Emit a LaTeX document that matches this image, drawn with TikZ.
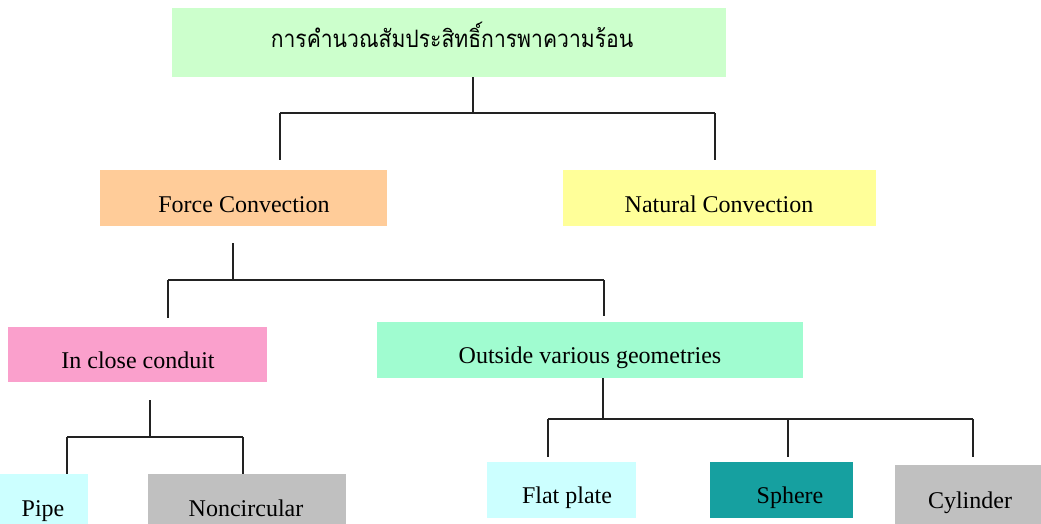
\documentclass[tikz,border=0pt]{standalone}
\usepackage{fontspec}
\setmainfont{Liberation Serif}
\newfontfamily\thaifont[Script=Thai,FakeStretch=0.88]{Loma}
\definecolor{cTop}{HTML}{CCFFCC}
\definecolor{cOrange}{HTML}{FFCC99}
\definecolor{cYellow}{HTML}{FFFF99}
\definecolor{cPink}{HTML}{FAA0CC}
\definecolor{cMint}{HTML}{A0FCD0}
\definecolor{cCyan}{HTML}{CCFFFF}
\definecolor{cGray}{HTML}{C0C0C0}
\definecolor{cTeal}{HTML}{16A0A0}
\definecolor{cLine}{HTML}{222222}
\begin{document}
\begin{tikzpicture}[x=1pt,y=-1pt,
  box/.style={draw=none, inner sep=0pt, outer sep=0pt},
  lbl/.style={anchor=base, inner sep=0pt, font=\fontsize{24}{28}\selectfont},
  conn/.style={line width=2pt, draw=cLine}]
\useasboundingbox (0,0) rectangle (1041,523);
\clip (0,0) rectangle (1041,523);
\fill[white] (0,0) rectangle (1041,523);
% boxes
\node[box, fill=cTop, minimum width=554pt, minimum height=69pt] (top) at (449,42.5) {};
\node[box, fill=cOrange, minimum width=287pt, minimum height=56pt] (fc) at (243.5,198) {};
\node[box, fill=cYellow, minimum width=313pt, minimum height=56pt] (nc) at (719.5,198) {};
\node[box, fill=cPink, minimum width=259pt, minimum height=55pt] (icc) at (137.5,354.5) {};
\node[box, fill=cMint, minimum width=426pt, minimum height=56pt] (ovg) at (590,350) {};
\node[box, fill=cCyan, minimum width=98pt, minimum height=66pt] (pipe) at (39,507) {};
\node[box, fill=cGray, minimum width=198pt, minimum height=66pt] (nonc) at (247,507) {};
\node[box, fill=cCyan, minimum width=149pt, minimum height=56pt] (flat) at (561.5,490) {};
\node[box, fill=cTeal, minimum width=143pt, minimum height=56pt] (sph) at (781.5,490) {};
\node[box, fill=cGray, minimum width=155pt, minimum height=68pt] (cyl) at (972.5,499) {};
% labels
\node[lbl, font=\thaifont\fontsize{24}{28}\selectfont] (topt) at (452,47) {การคำนวณสัมประสิทธิ์การพาความร้อน};
\node[lbl] (fct) at (244,212) {Force Convection};
\node[lbl] (nct) at (719,212) {Natural Convection};
\node[lbl] (icct) at (138,368) {In close conduit};
\node[lbl] (ovgt) at (590,363) {Outside various geometries};
\node[lbl] (pipet) at (43,516) {Pipe};
\node[lbl] (nonct) at (246,516) {Noncircular};
\node[lbl] (flatt) at (567,503) {Flat plate};
\node[lbl] (spht) at (790,503) {Sphere};
\node[lbl] (cylt) at (970,508) {Cylinder};
% junctions
\coordinate (j1) at (473,113);
\coordinate (j1l) at (280,113);
\coordinate (j1r) at (715,113);
\coordinate (j2t) at (233,243);
\coordinate (j2) at (233,280);
\coordinate (j2l) at (168,280);
\coordinate (j2r) at (604,280);
\coordinate (j3t) at (150,400);
\coordinate (j3) at (150,437);
\coordinate (j3l) at (67,437);
\coordinate (j3r) at (243,437);
\coordinate (j4) at (603,419);
\coordinate (j4l) at (548,419);
\coordinate (j4m) at (788,419);
\coordinate (j4r) at (973,419);
% connectors
\draw[conn] (top.south -| j1) -- (j1);
\draw[conn] (j1l) -- (j1r);
\draw[conn] (j1l) -- ([yshift=10pt]fc.north -| j1l);
\draw[conn] (j1r) -- ([yshift=10pt]nc.north -| j1r);
\draw[conn] (j2t) -- (j2);
\draw[conn] (j2l) -- (j2r);
\draw[conn] (j2l) -- ([yshift=9pt]icc.north -| j2l);
\draw[conn] (j2r) -- ([yshift=6pt]ovg.north -| j2r);
\draw[conn] (j3t) -- (j3);
\draw[conn] (j3l) -- (j3r);
\draw[conn] (j3l) -- (pipe.north -| j3l);
\draw[conn] (j3r) -- (nonc.north -| j3r);
\draw[conn] (ovg.south -| j4) -- (j4);
\draw[conn] (j4l) -- (j4r);
\draw[conn] (j4l) -- ([yshift=5pt]flat.north -| j4l);
\draw[conn] (j4m) -- ([yshift=5pt]sph.north -| j4m);
\draw[conn] (j4r) -- ([yshift=8pt]cyl.north -| j4r);
\end{tikzpicture}
\end{document}
